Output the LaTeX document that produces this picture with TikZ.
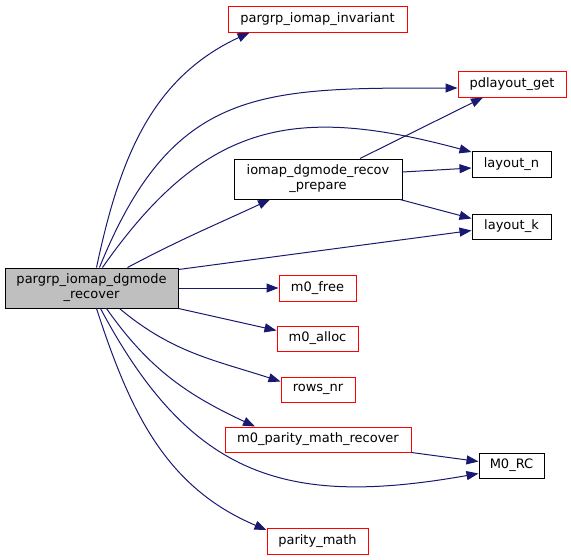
\documentclass[tikz,border=0pt]{standalone}
\usepackage{fontspec}
\setmainfont{DejaVu Sans}
\usepackage{tikz}
\usetikzlibrary{arrows.meta}

\definecolor{edgeblue}{RGB}{25,25,112}
\definecolor{callgray}{RGB}{191,191,191}

\begin{document}
\begin{tikzpicture}[
  x=1pt, y=-1pt,
  font=\fontsize{13}{15}\selectfont,
  fn/.style={draw, line width=1pt, minimum height=26pt, inner sep=0pt, align=center},
  fnred/.style={fn, draw=red},
  fnmain/.style={fn, fill=callgray, minimum height=40pt},
  call/.style={-{Triangle[length=12pt,width=9pt]}, line width=1pt, edgeblue},
]
  \useasboundingbox (0,0) rectangle (571,560);

  % caller
  \node[fnmain, minimum width=173pt] (main) at (91.5,288) {pargrp\_iomap\_dgmode\\\_recover};

  % callees
  \node[fnred, minimum width=179pt] (inv) at (317.5,19) {pargrp\_iomap\_invariant};
  \node[fnred, minimum width=108pt] (pdl) at (512,84) {pdlayout\_get};
  \node[fn, minimum width=168pt, minimum height=40pt] (prep) at (318,179) {iomap\_dgmode\_recov\\\_prepare};
  \node[fn, minimum width=79pt] (ln) at (511.5,164) {layout\_n};
  \node[fn, minimum width=79pt, minimum height=25pt] (lk) at (511.5,226.5) {layout\_k};
  \node[fnred, minimum width=77pt] (free) at (317.5,288) {m0\_free};
  \node[fnred, minimum width=81pt, minimum height=25pt] (alloc) at (317.5,338.5) {m0\_alloc};
  \node[fnred, minimum width=74pt, minimum height=25pt] (rows) at (318,389.5) {rows\_nr};
  \node[fnred, minimum width=186pt, minimum height=25pt] (pmr) at (318,439.5) {m0\_parity\_math\_recover};
  \node[fn, minimum width=65pt, minimum height=25pt] (rc) at (511.5,465.5) {M0\_RC};
  \node[fnred, minimum width=101pt] (pm) at (317.5,541) {parity\_math};

  % calls from the caller
  \draw[call] ([xshift=5pt]main.north) to[out=78, in=205] ([xshift=-68pt]inv.south);
  \draw[call] ([xshift=8pt]main.north) to[out=68, in=180, looseness=1.25] ([yshift=-4pt]pdl.west);
  \draw[call] ([xshift=11pt]main.north) to[out=55, in=165, looseness=1.2] ([yshift=12pt]ln.west);
  \draw[call] ([xshift=36pt]main.north) to[out=28, in=205] ([xshift=-48pt]prep.south);
  \draw[call] ([yshift=-2pt]main.north east) -- ([yshift=-4pt]lk.west);
  \draw[call] (main.east) -- (free.west);
  \draw[call] (main.south east) -- ([yshift=8pt]alloc.west);
  \draw[call] ([xshift=28pt]main.south) to[out=-40, in=162] ([yshift=8pt]rows.west);
  \draw[call] ([xshift=15pt]main.south) to[out=-55, in=155] ([xshift=-63pt]pmr.north);
  \draw[call] ([xshift=9pt]main.south) to[out=-62, in=190, looseness=1.2] ([yshift=-8pt]rc.west);
  \draw[call] ([xshift=5pt]main.south) to[out=-72, in=157] ([yshift=11pt]pm.west);

  % calls from the other nodes
  \draw[call] ([xshift=42pt]prep.north) -- ([xshift=-29pt]pdl.south);
  \draw[call] ([yshift=7pt]prep.east) -- ([yshift=-4pt]ln.west);
  \draw[call] ([xshift=82pt]prep.south) -- ([yshift=8pt]lk.west);
  \draw[call] (pmr.south east) -- ([yshift=4pt]rc.west);
\end{tikzpicture}
\end{document}
